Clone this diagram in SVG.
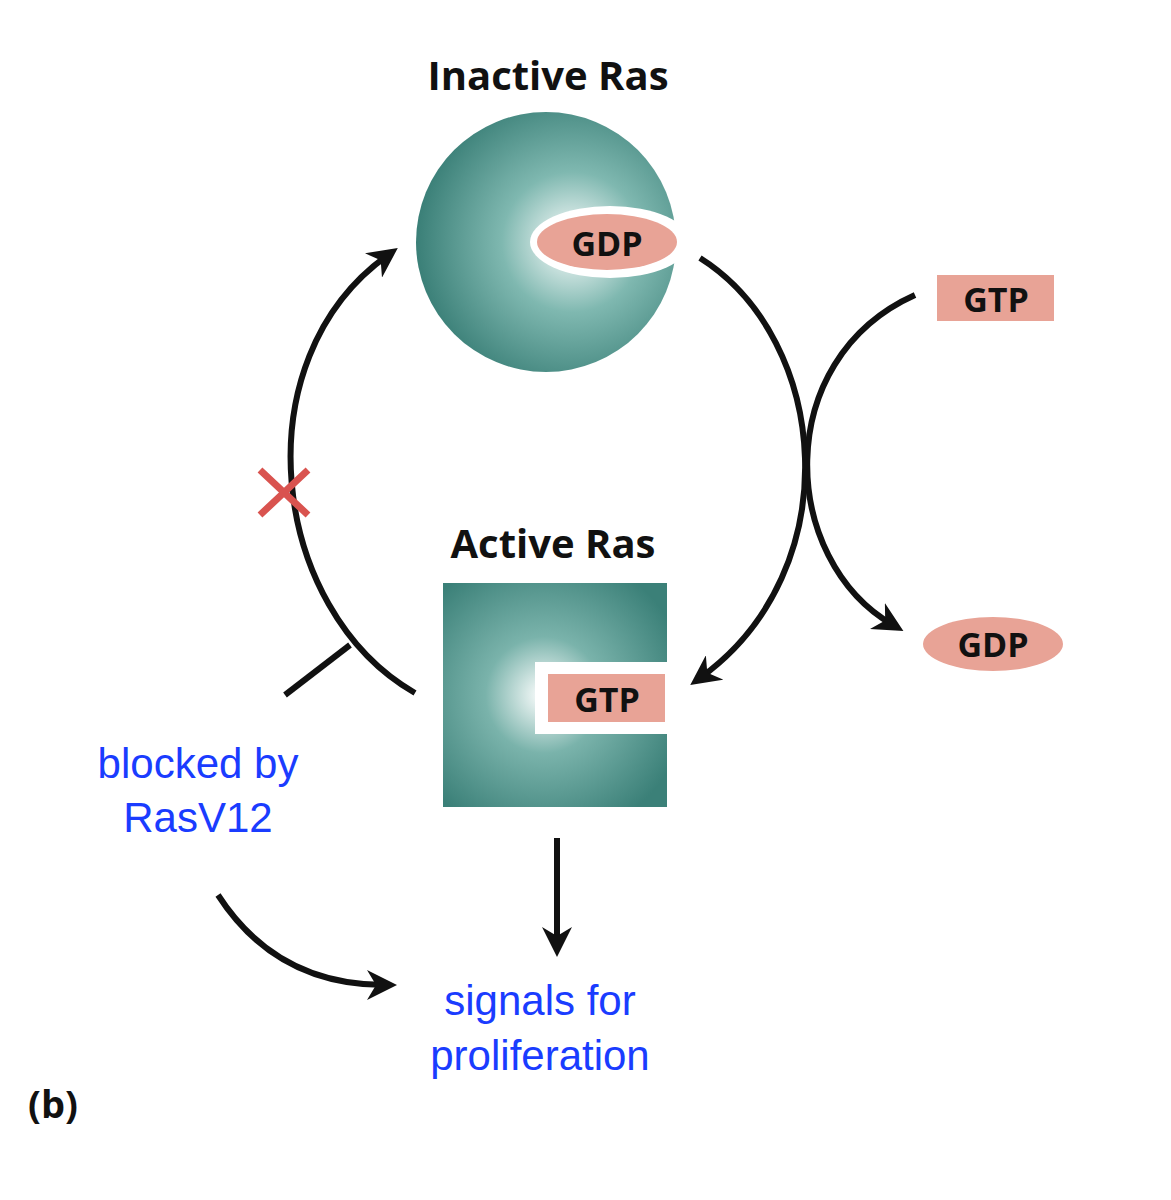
<svg xmlns="http://www.w3.org/2000/svg" width="1171" height="1200" viewBox="0 0 1171 1200">
<style>
.t{font-family:"Open Sans","DejaVu Sans",sans-serif;font-weight:bold;fill:#111}
.b{font-family:"Liberation Sans",Arial,sans-serif;fill:#1a3cff;font-size:42px}
.c{fill:none;stroke:#111;stroke-width:6}
</style>
<defs>
<radialGradient id="sg" cx="0.6" cy="0.5" r="0.6"><stop offset="0" stop-color="#ffffff"/><stop offset="0.45" stop-color="#7fb8b0"/><stop offset="1" stop-color="#3a7f77"/></radialGradient>
<radialGradient id="qg" cx="0.45" cy="0.5" r="0.65"><stop offset="0" stop-color="#ffffff"/><stop offset="0.4" stop-color="#7ab3ab"/><stop offset="1" stop-color="#3b8078"/></radialGradient>
<marker id="ah" viewBox="0 0 10 10" refX="6" refY="5" markerWidth="5" markerHeight="5" orient="auto" markerUnits="strokeWidth"><path d="M0,0 L10,5 L0,10 L3,5 z" fill="#111"/></marker>
</defs>
<text class="t" x="548" y="90" font-size="40" text-anchor="middle">Inactive Ras</text>
<g id="inactive">
<circle cx="546" cy="242" r="130" fill="url(#sg)"/>
<ellipse cx="610" cy="242" rx="80" ry="36" fill="#fff"/>
<ellipse cx="607" cy="242" rx="70" ry="28" fill="#e8a396"/>
<text class="t" x="607" y="256" font-size="34" text-anchor="middle">GDP</text>
</g>
<text class="t" x="553" y="558" font-size="40" text-anchor="middle">Active Ras</text>
<g id="active">
<rect x="443" y="583" width="224" height="224" fill="url(#qg)"/>
<rect x="535" y="662" width="132" height="72" fill="#fff"/>
<rect x="548" y="674" width="117" height="48" fill="#e8a396"/>
<text class="t" x="607" y="712" font-size="34" text-anchor="middle">GTP</text>
</g>
<g id="gtp"><rect x="937" y="275" width="117" height="46" fill="#e8a396"/><text class="t" x="996" y="312" font-size="34" text-anchor="middle">GTP</text></g>
<g id="gdp"><ellipse cx="993" cy="644" rx="70" ry="27" fill="#e8a396"/><text class="t" x="993" y="657" font-size="34" text-anchor="middle">GDP</text></g>
<g id="connectors">
<path class="c" d="M415,693 C270,610 240,360 388,255" marker-end="url(#ah)"/>
<path class="c" d="M700,258 C830,340 850,570 700,678" marker-end="url(#ah)"/>
<path class="c" d="M915,295 C770,360 780,560 893,625" marker-end="url(#ah)"/>
<path class="c" d="M285,695 L350,645"/>
<path class="c" d="M557,838 L557,945" marker-end="url(#ah)"/>
<path class="c" d="M218,895 C260,960 320,985 385,985" marker-end="url(#ah)"/>
<path d="M260,470 L308,515 M308,470 L260,515" stroke="#d9534f" stroke-width="7"/>
</g>
<text class="b" x="198" y="778" text-anchor="middle">blocked by</text>
<text class="b" x="198" y="832" text-anchor="middle">RasV12</text>
<text class="b" x="540" y="1015" text-anchor="middle">signals for</text>
<text class="b" x="540" y="1070" text-anchor="middle">proliferation</text>
<text class="t" x="28" y="1118" font-size="38">(b)</text>
</svg>
